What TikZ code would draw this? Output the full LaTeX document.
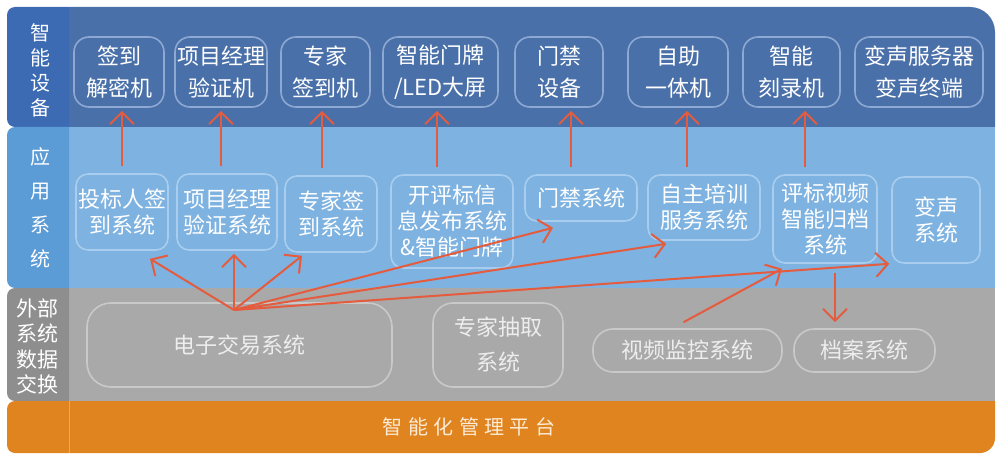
\documentclass[tikz,border=0pt]{standalone}
\usepackage{fontspec}
\setmainfont{Noto Sans CJK SC}
\usetikzlibrary{arrows.meta}

\definecolor{topband}{HTML}{4A70A9}
\definecolor{toplabel}{HTML}{3C6BB3}
\definecolor{appband}{HTML}{7EB2E0}
\definecolor{applabel}{HTML}{5B9BD6}
\definecolor{extband}{HTML}{AAA9A9}
\definecolor{extlabel}{HTML}{8E8E8E}
\definecolor{baseband}{HTML}{E08420}
\definecolor{devline}{HTML}{8DA8D3}
\definecolor{appline}{HTML}{A8CDEE}
\definecolor{extline}{HTML}{C9C9C9}
\definecolor{exttext}{HTML}{EDEDED}
\definecolor{basetext}{HTML}{FCEBD6}
\definecolor{arrowred}{HTML}{E45B3E}

\begin{document}
\begin{tikzpicture}[x=0.5pt, y=-0.5pt,
    devbox/.style={draw=devline, line width=0.8pt, rounded corners=7.5pt, align=center,
        inner sep=0pt, minimum height=35pt, text=white, font=\fontsize{11}{16}\selectfont},
    appbox/.style={draw=appline, line width=0.8pt, rounded corners=6pt, align=center,
        inner sep=0pt, text=white, font=\fontsize{11}{13}\selectfont},
    extbox/.style={draw=extline, line width=0.8pt, rounded corners=10pt, align=center,
        inner sep=0pt, text=exttext, font=\fontsize{11}{17.5}\selectfont},
    sidelabel/.style={align=center, inner sep=0pt, text=white},
    link/.style={draw=arrowred, line width=1pt, -{Straight Barb[length=6pt,width=12pt]}},
    up/.style={link, shorten <=3.5pt, shorten >=1.5pt}]
    \useasboundingbox (0,0) rectangle (1006,460);
    % bands
    \fill[topband] (69,7) -- (970,7) arc[start angle=90, end angle=0, radius=12.5pt]
        -- (995,127) -- (69,127) -- cycle;
    \fill[appband] (69,127) rectangle (995,288);
    \fill[extband] (69,288) rectangle (995,401);
    \fill[baseband] (69,401) -- (995,401) -- (995,438)
        arc[start angle=0, end angle=-90, radius=7.5pt] -- (69,453) -- cycle;
    \fill[toplabel, rounded corners=4pt] (69,7) -- (7,7) -- (7,127) -- (69,127);
    \fill[applabel, rounded corners=4pt] (69,127) -- (7,127) -- (7,288) -- (69,288);
    \fill[extlabel, rounded corners=4pt] (69,288) -- (7,288) -- (7,401) -- (69,401);
    \fill[baseband, rounded corners=4pt] (69,401) -- (7,401) -- (7,453) -- (69,453);
    \draw[white, opacity=0.3, line width=0.4pt] (69,401) -- (69,453);

    \node[sidelabel, font=\fontsize{10}{12.5}\selectfont] (devlabel) at (40,70) {智\\能\\设\\备};
    \node[sidelabel, font=\fontsize{10}{17}\selectfont] (applabel) at (40,208) {应\\用\\系\\统};
    \node[sidelabel, font=\fontsize{10.5}{12.75}\selectfont] (extlabel) at (38,346.5) {外部\\系统\\数据\\交换};

    % smart devices
    \node[devbox, minimum width=45pt] (sign) at (119,72) {签到\\解密机};
    \node[devbox, minimum width=46pt] (pmdev) at (221,72) {项目经理\\验证机};
    \node[devbox, minimum width=44.5pt] (expdev) at (325.5,72) {专家\\签到机};
    \node[devbox, minimum width=57.5pt] (screen) at (440.5,72) {智能门牌\\/LED大屏};
    \node[devbox, minimum width=44pt] (gate) at (559,72) {门禁\\设备};
    \node[devbox, minimum width=50pt] (kiosk) at (678,72) {自助\\一体机};
    \node[devbox, minimum width=48.5pt] (burner) at (791.5,72) {智能\\刻录机};
    \node[devbox, minimum width=64pt] (voice) at (919,72) {变声服务器\\变声终端};

    % application systems
    \node[appbox, minimum width=46pt, minimum height=38pt] (signsys) at (122,212) {投标人签\\到系统};
    \node[appbox, minimum width=50pt, minimum height=38pt] (pmsys) at (227,212) {项目经理\\验证系统};
    \node[appbox, minimum width=46pt, minimum height=38pt] (expsys) at (331,214) {专家签\\到系统};
    \node[appbox, minimum width=61pt, minimum height=46.5pt] (infosys) at (452,221.5) {开评标信\\息发布系统\\\&智能门牌};
    \node[appbox, minimum width=56pt, minimum height=23pt] (gatesys) at (581,198) {门禁系统};
    \node[appbox, minimum width=56pt, minimum height=32.5pt] (trainsys) at (704,207.5) {自主培训\\服务系统};
    \node[appbox, minimum width=52pt, minimum height=44pt] (videosys) at (825,219) {评标视频\\智能归档\\系统};
    \node[appbox, minimum width=44pt, minimum height=43pt] (voicesys) at (936,220) {变声\\系统};

    % external systems
    \node[extbox, rounded corners=12pt, minimum width=152.5pt, minimum height=42pt] (trade) at (239.5,345) {电子交易系统};
    \node[extbox, minimum width=65pt, minimum height=42pt] (expert) at (498,345) {专家抽取\\系统};
    \node[extbox, minimum width=94.5pt, minimum height=21.5pt] (monitor) at (687.5,350.5) {视频监控系统};
    \node[extbox, minimum width=70.5pt, minimum height=21.5pt] (archive) at (864.5,350.5) {档案系统};

    \node[text=basetext, font=\fontsize{10}{12}\selectfont, inner sep=0pt] (platform) at (469,427)
        {智\hspace{2.7pt}能\hspace{2.7pt}化\hspace{2.7pt}管\hspace{2.7pt}理\hspace{2.7pt}平\hspace{2.7pt}台};

    % app -> device
    \draw[up] (signsys.north) -- (signsys.north |- sign.south);
    \draw[up] ([xshift=-3pt]pmsys.north) -- ([xshift=-3pt]pmsys.north |- pmdev.south);
    \draw[up] ([xshift=-4.5pt]expsys.north) -- ([xshift=-4.5pt]expsys.north |- expdev.south);
    \draw[up] ([xshift=-7.5pt]infosys.north) -- ([xshift=-7.5pt]infosys.north |- screen.south);
    \draw[up] ([xshift=-5pt]gatesys.north) -- ([xshift=-5pt]gatesys.north |- gate.south);
    \draw[up] ([xshift=-8.5pt]trainsys.north) -- ([xshift=-8.5pt]trainsys.north |- kiosk.south);
    \draw[up] ([xshift=-10pt]videosys.north) -- ([xshift=-10pt]videosys.north |- burner.south);

    % trading system -> apps
    \coordinate (hub) at (234,310);
    \draw[link] (hub) -- ([xshift=14pt,yshift=-4pt]signsys.south);
    \draw[link] (hub) -- ([xshift=3.5pt,yshift=-1.5pt]pmsys.south);
    \draw[link] (hub) -- ([xshift=-14.5pt,yshift=-1.5pt]expsys.south);
    \draw[link] (hub) -- ([xshift=-14pt,yshift=-3pt]gatesys.south);
    \draw[link] (hub) -- ([xshift=9.5pt,yshift=-1.5pt]trainsys.south west);
    \draw[link] (hub) -- ([xshift=-1pt]voicesys.south west);
    % video
    \draw[link] ([xshift=-2pt,yshift=3pt]monitor.north) -- ([xshift=-21.5pt,yshift=-2.5pt]videosys.south);
    \draw[link, shorten >=3pt] ([xshift=5pt,yshift=-4.5pt]videosys.south) -- ([xshift=5pt]videosys.south |- archive.north);
\end{tikzpicture}
\end{document}
